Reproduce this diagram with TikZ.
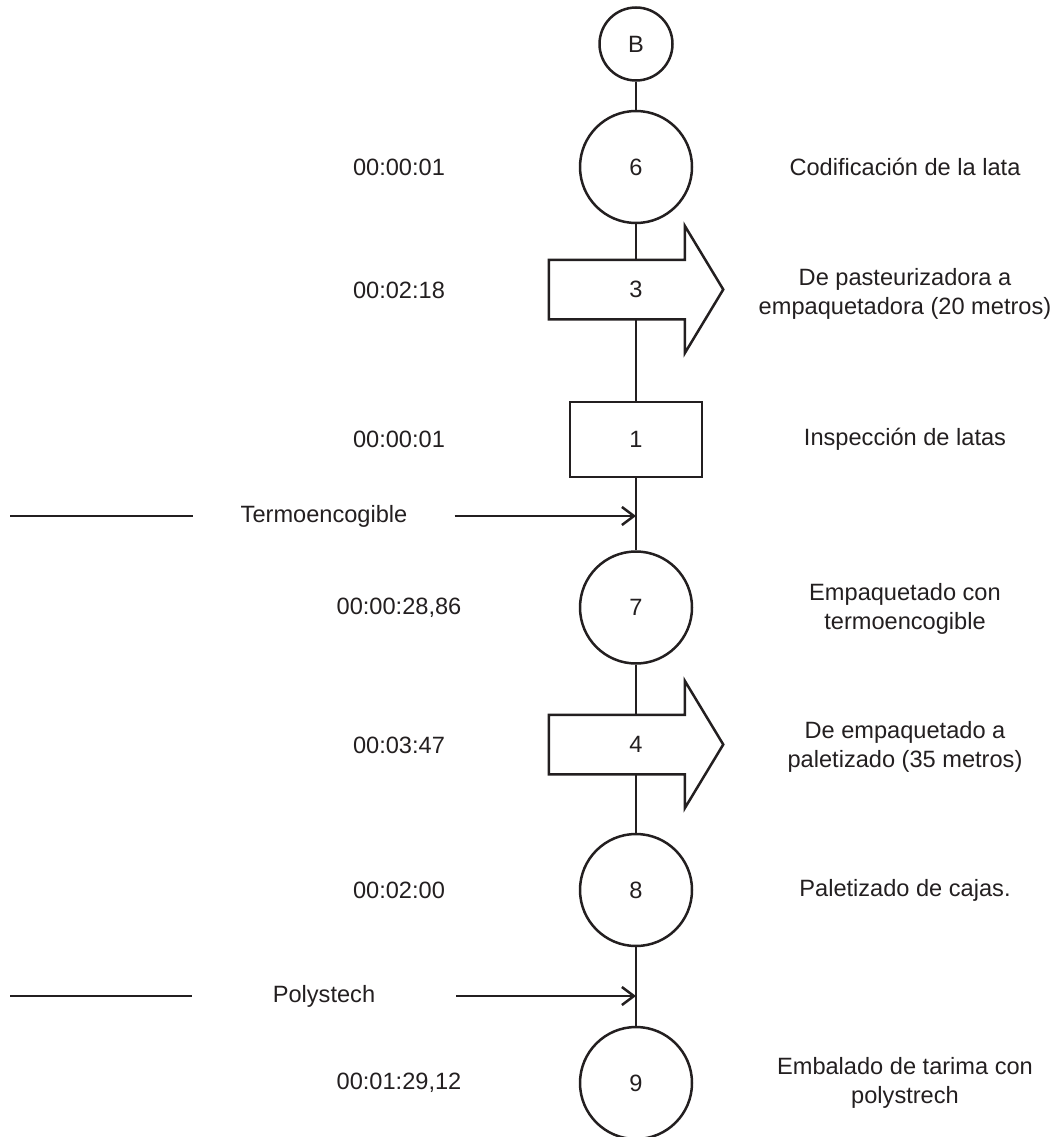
\documentclass[tikz,border=0pt]{standalone}
\usepackage{fontspec}
\setmainfont{Liberation Sans}
\usetikzlibrary{arrows.meta,calc}
\definecolor{ink}{HTML}{231F20}

% outline of a transport arrow around a body node
\newcommand\transportoutline[1]{%
  \draw[line join=miter] (#1.north west) -- ++(136,0) -- ++(0,-34) -- (#1.east)
    -- ($(#1.south west)+(136,34)$) -- ++(0,-34) -- (#1.south west) -- cycle;}

\begin{document}
\begin{tikzpicture}[x=1pt,y=-1pt,
  color=ink, line width=2.5pt,
  every node/.style={font=\fontsize{23.6}{28.5}\selectfont},
  opcircle/.style={circle,draw,minimum size=112pt,inner sep=0pt},
  inspbox/.style={rectangle,draw,minimum width=132pt,minimum height=75pt,inner sep=0pt},
  transbody/.style={rectangle,minimum width=172pt,minimum height=57pt,inner sep=0pt},
  timelabel/.style={align=center},
  desclabel/.style={align=center},
  feedlabel/.style={inner ysep=2pt},
  feedtip/.style={-{Straight Barb[length=12pt,width=18pt]}}
]
\useasboundingbox (0,0) rectangle (1060,1137);
\clip (0,0) rectangle (1060,1137);

% process symbols
\node[opcircle,minimum size=73pt] (b) at (636,44) {B};
\node[opcircle] (c6) at (636,167) {6};
\node[transbody] (a3) at (636,289.5) {3};
\transportoutline{a3}
\node[inspbox] (r1) at (636,439.5) {1};
\node[opcircle] (c7) at (636,607.5) {7};
\node[transbody] (a4) at (636,744.5) {4};
\transportoutline{a4}
\node[opcircle] (c8) at (636,890) {8};
\node[opcircle] (c9) at (636,1083) {9};

% main flow line
\draw (b) -- (c6);
\draw (c6) -- (a3);
\draw (a3) -- (r1);
\draw (r1) -- (c7);
\draw (c7) -- (a4);
\draw (a4) -- (c8);
\draw (c8) -- (c9);

% material inputs
\coordinate (t1s) at (10,516);
\coordinate (t1e) at (636,516);
\node[feedlabel,inner xsep=46pt] (t1) at (324,516) {Termoencogible};
\draw (t1s) -- (t1);
\draw[feedtip] (t1) -- (t1e);

\coordinate (t2s) at (10,996);
\coordinate (t2e) at (636,996);
\node[feedlabel,inner xsep=80pt] (t2) at (324,996) {Polystech};
\draw (t2s) -- (t2);
\draw[feedtip] (t2) -- (t2e);

% times
\node[timelabel] (h6) at (399,167) {00:00:01};
\node[timelabel] (h3) at (399,290) {00:02:18};
\node[timelabel] (h1) at (399,439.5) {00:00:01};
\node[timelabel] (h7) at (399,607.5) {00:00:28,86};
\node[timelabel] (h4) at (399,745) {00:03:47};
\node[timelabel] (h8) at (399,890) {00:02:00};
\node[timelabel] (h9) at (399,1083) {00:01:29,12};

% descriptions
\node[desclabel] (d6) at (905,167) {Codificación de la lata};
\node[desclabel] (d3) at (905,294) {De pasteurizadora a\\empaquetadora (20 metros)};
\node[desclabel] (d1) at (905,439.5) {Inspección de latas};
\node[desclabel] (d7) at (905,609) {Empaquetado con\\termoencogible};
\node[desclabel] (d4) at (905,747) {De empaquetado a\\paletizado (35 metros)};
\node[desclabel] (d8) at (905,890) {Paletizado de cajas.};
\node[desclabel] (d9) at (905,1083) {Embalado de tarima con\\polystrech};
\end{tikzpicture}
\end{document}
